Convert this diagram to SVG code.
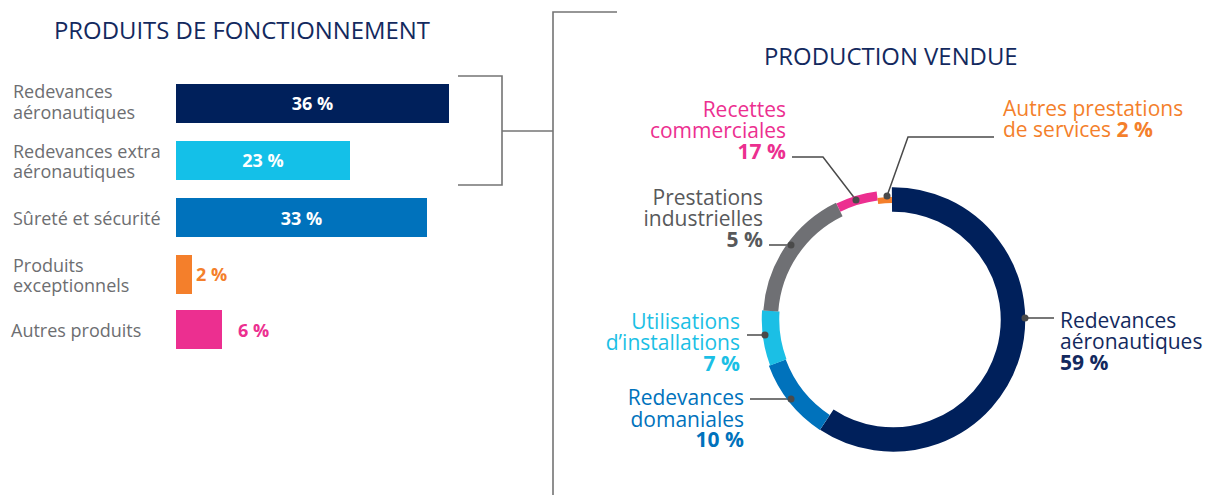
<svg xmlns="http://www.w3.org/2000/svg" width="1206" height="495" viewBox="0 0 1206 495">
<style>
text{font-family:"Open Sans","Liberation Sans",sans-serif}
.title{font-size:23.9px;fill:#13295e}
.lab{font-size:18px;fill:#6d6e71}
.pct{font-size:18px;font-weight:700}
.rl{font-size:21px}
.b{font-weight:700}
.lead{fill:none;stroke:#4a4a4a;stroke-width:1.5}
.dot{fill:#4a4a4a}
.brk{fill:none;stroke:#747474;stroke-width:1.6}
.seg{fill:none}
</style>
<rect width="1206" height="495" fill="#ffffff"/>

<g id="title-left"><text class="title" x="54" y="39">PRODUITS DE FONCTIONNEMENT</text></g>
<g id="title-right"><text class="title" x="764" y="65">PRODUCTION VENDUE</text></g>

<g id="bar-redevances-aero">
<text class="lab" x="13" y="98">Redevances<tspan x="13" y="119">aéronautiques</tspan></text>
<rect x="176" y="84" width="273" height="39" fill="#00205b"/>
<text class="pct" x="312.5" y="110" fill="#ffffff" text-anchor="middle">36 %</text>
</g>
<g id="bar-redevances-extra">
<text class="lab" x="13" y="158">Redevances extra<tspan x="13" y="178">aéronautiques</tspan></text>
<rect x="176" y="141" width="174" height="39" fill="#14c0e8"/>
<text class="pct" x="263" y="167" fill="#ffffff" text-anchor="middle">23 %</text>
</g>
<g id="bar-surete">
<text class="lab" x="13" y="225">Sûreté et sécurité</text>
<rect x="176" y="198" width="251" height="39" fill="#0072bc"/>
<text class="pct" x="301.5" y="225" fill="#ffffff" text-anchor="middle">33 %</text>
</g>
<g id="bar-exceptionnels">
<text class="lab" x="13" y="272">Produits<tspan x="13" y="292">exceptionnels</tspan></text>
<rect x="176" y="255" width="16" height="39" fill="#f47f2b"/>
<text class="pct" x="196" y="281" fill="#f47f2b">2 %</text>
</g>
<g id="bar-autres">
<text class="lab" x="11" y="337">Autres produits</text>
<rect x="176" y="310" width="46" height="39" fill="#ec2f90"/>
<text class="pct" x="238" y="337" fill="#ec2f90">6 %</text>
</g>

<g id="connectors">
<polyline class="brk" points="458,76 502,76 502,185 458,185"/>
<polyline class="brk" points="502,131 553,131"/>
<polyline class="brk" points="617,12 553,12 553,495"/>
<polyline class="lead" points="792,157 823,157 856,200"/>
<polyline class="lead" points="994,137 908,137 887,196"/>
<polyline class="lead" points="769,245 791,245"/>
<polyline class="lead" points="747,335 765,335"/>
<polyline class="lead" points="750,399 791,399"/>
<polyline class="lead" points="1025,318 1054,318"/>
</g>

<g id="donut">
<path class="seg" stroke="#00205b" stroke-width="24.5" d="M891.95,199.5 A120,120 0 1 1 826.8,419.6"/>
<path class="seg" stroke="#0072bc" stroke-width="18" d="M824.8,422.5 A123.5,123.5 0 0 1 777.3,362.7"/>
<path class="seg" stroke="#1bbfe5" stroke-width="17.5" d="M778.3,362.4 A122.5,122.5 0 0 1 770.8,310.95"/>
<path class="seg" stroke="#6f7074" stroke-width="15" d="M770.8,310.95 A122.5,122.5 0 0 1 839.3,209.4"/>
<path class="seg" stroke="#ec2f90" stroke-width="9" d="M838.4,207.6 A124.5,124.5 0 0 1 877.2,196.0"/>
<path class="seg" stroke="#f47f2b" stroke-width="6" d="M877.8,201.0 A119.5,119.5 0 0 1 891.96,200.0"/>
</g>

<g id="dots">
<circle class="dot" cx="856" cy="200" r="3.5"/>
<circle class="dot" cx="887" cy="196" r="3.5"/>
<circle class="dot" cx="791" cy="245" r="3.5"/>
<circle class="dot" cx="765" cy="335" r="3.5"/>
<circle class="dot" cx="791" cy="399" r="3.5"/>
<circle class="dot" cx="1025" cy="318" r="3.5"/>
</g>

<g id="label-recettes">
<text class="rl" x="786" y="116.5" fill="#ec2f90" text-anchor="end">Recettes<tspan x="786" y="137.5">commerciales</tspan><tspan class="b" x="786" y="158.5">17 %</tspan></text>
</g>
<g id="label-autres-prestations">
<text class="rl" x="1003" y="116" fill="#f47f2b">Autres prestations<tspan x="1003" y="137">de services </tspan><tspan class="b">2 %</tspan></text>
</g>
<g id="label-prestations">
<text class="rl" x="763" y="205" fill="#58595b" text-anchor="end">Prestations<tspan x="763" y="226">industrielles</tspan><tspan class="b" x="763" y="247">5 %</tspan></text>
</g>
<g id="label-utilisations">
<text class="rl" x="740" y="328.5" fill="#1bbfe5" text-anchor="end">Utilisations<tspan x="740" y="349.5">d’installations</tspan><tspan class="b" x="740" y="370.5">7 %</tspan></text>
</g>
<g id="label-domaniales">
<text class="rl" x="744" y="405" fill="#0072bc" text-anchor="end">Redevances<tspan x="744" y="426.5">domaniales</tspan><tspan class="b" x="744" y="447">10 %</tspan></text>
</g>
<g id="label-aero">
<text class="rl" x="1060" y="328" fill="#13295e">Redevances<tspan x="1060" y="349">aéronautiques</tspan><tspan class="b" x="1060" y="370">59 %</tspan></text>
</g>
</svg>
